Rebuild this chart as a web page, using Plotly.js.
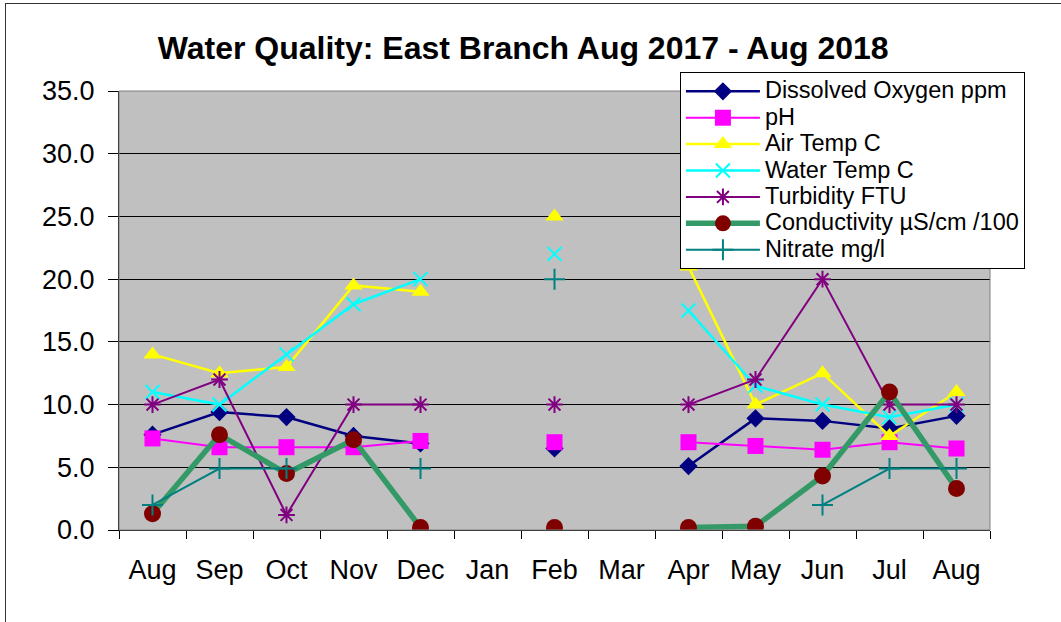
<!DOCTYPE html>
<html>
<head>
<meta charset="utf-8">
<script src="https://cdn.plot.ly/plotly-3.0.1.min.js"></script>
<style>
html, body { margin: 0; padding: 0; background: #fff; }
#chart { width: 1061px; height: 622px; }
#frame { position: absolute; left: 5px; top: 3px; width: 1200px; height: 800px; border: 1px solid #333; pointer-events: none; }
</style>
</head>
<body>
<div id="chart"></div>
<div id="frame"></div>
<script>
const months = ["Aug","Sep","Oct","Nov","Dec","Jan","Feb","Mar","Apr","May","Jun","Jul","Aug"];
const seriesNames = ["Dissolved Oxygen ppm","pH","Air Temp C","Water Temp C","Turbidity FTU","Conductivity µS/cm /100","Nitrate mg/l"];
const dissolvedOxygen = [7.6, 9.4, 9.0, 7.5, 6.9, null, 6.5, null, 5.1, 8.9, 8.7, 8.1, 9.1];
const pH            = [7.3, 6.6, 6.6, 6.6, 7.1, null, 7.0, null, 7.0, 6.7, 6.4, 7.0, 6.5];
const airTemp       = [14.0, 12.5, 13.0, 19.5, 19.0, null, 25.0, null, 21.0, 10.0, 12.5, 7.5, 11.0];
const waterTemp     = [11.0, 10.0, 14.0, 18.0, 20.0, null, 22.0, null, 17.5, 11.5, 10.0, 9.0, 10.0];
const turbidity     = [10.0, 12.0, 1.2, 10.0, 10.0, null, 10.0, null, 10.0, 12.0, 20.0, 10.0, 10.0];
const conductivity  = [1.3, 7.6, 4.5, 7.2, 0.2, null, 0.2, null, 0.2, 0.3, 4.3, 11.0, 3.3];
const nitrate       = [2.0, 4.9, 4.9, null, 4.9, null, 20.0, null, null, null, 2.0, 4.9, 4.9];
const yTicks = [0, 5, 10, 15, 20, 25, 30, 35];

const idx = months.map((m, i) => i);
const bounds = months.concat(["end"]).map((m, i) => i - 0.5);

function tr(k, y, color, symbol, size, lineColor, lineWidth, markerLine) {
  const marker = { color: color, symbol: symbol, size: size };
  if (markerLine) marker.line = { color: color, width: 2 };
  return {
    type: 'scatter', mode: 'lines+markers',
    name: '<span style="font-size:23.5px">' + seriesNames[k] + '</span>',
    x: idx, y: y,
    line: { color: lineColor || color, width: lineWidth || 2 },
    marker: marker, connectgaps: false
  };
}

const data = [
  tr(0, dissolvedOxygen, '#000080', 'diamond', 14, null, 2.5),
  tr(1, pH, '#FF00FF', 'square', 16),
  tr(2, airTemp, '#FFFF00', 'triangle-up', 16, null, 2.5),
  tr(3, waterTemp, '#00FFFF', 'x-thin-open', 14, null, 2.5, true),
  tr(4, turbidity, '#800080', 'asterisk-open', 14, null, 2, true),
  tr(5, conductivity, '#800000', 'circle', 17, '#339966', 5.5),
  tr(6, nitrate, '#008080', 'cross-thin-open', 15, null, 2, true)
];

const font = "Arial, 'Liberation Sans', sans-serif";
const layout = {
  width: 1061, height: 622,
  margin: { l: 119, r: 71, t: 91, b: 92 },
  paper_bgcolor: '#ffffff',
  plot_bgcolor: '#C0C0C0',
  font: { family: font, color: '#000', size: 26 },
  title: {
    text: '<b>Water Quality: East Branch Aug 2017 - Aug 2018</b>',
    font: { family: font, size: 32, color: '#000' },
    x: 0.464, xref: 'paper', xanchor: 'center',
    y: 1 - 48 / 622, yref: 'container', yanchor: 'middle'
  },
  xaxis: {
    range: [-0.5, 12.5],
    tickmode: 'array', tickvals: idx, ticktext: months,
    ticks: '', showgrid: false, zeroline: false,
    showline: true, linecolor: '#000', linewidth: 1,
    tickfont: { size: 27, family: font },
    ticklabelstandoff: 16,
    minor: { tickmode: 'array', tickvals: bounds, ticks: 'outside', ticklen: 8, tickcolor: '#000', tickwidth: 1, showgrid: false }
  },
  yaxis: {
    range: [0, 35],
    tickmode: 'array', tickvals: yTicks, tickformat: '.1f',
    ticks: 'outside', ticklen: 10, tickcolor: '#000',
    ticklabelstandoff: 8,
    showgrid: true, gridcolor: '#000', gridwidth: 1,
    zeroline: false, showline: true, linecolor: '#000', linewidth: 1,
    tickfont: { size: 27, family: font }
  },
  shapes: [
    { type: 'rect', xref: 'paper', yref: 'paper', x0: 0, x1: 1, y0: 0, y1: 1, line: { color: '#808080', width: 1 }, layer: 'above' }
  ],
  legend: {
    x: 0.644, y: 1.043, xanchor: 'left', yanchor: 'top',
    bgcolor: '#ffffff', bordercolor: '#000', borderwidth: 1,
    font: { size: 18, family: font, color: '#000' },
    tracegroupgap: 0, itemwidth: 74
  },
  showlegend: true
};

Plotly.newPlot('chart', data, layout, { displayModeBar: false, staticPlot: true });
</script>
</body>
</html>
